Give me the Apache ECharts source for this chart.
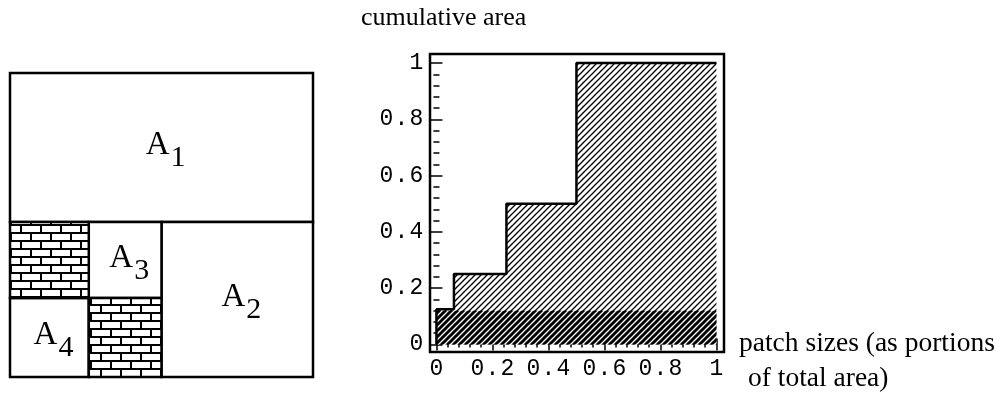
<!DOCTYPE html>
<html><head><meta charset="utf-8">
<script src="https://cdn.jsdelivr.net/npm/echarts@6/dist/echarts.min.js"></script>
<style>html,body{margin:0;padding:0;background:#fff}#c{width:995px;height:414px}</style>
</head><body><div id="c"></div>
<script>
// ---- Step chart (cumulative area vs patch size) ----
const stepX = [0, 0, 0.0625, 0.25, 0.5, 1];
const cumulativeArea = [0, 0.125, 0.25, 0.5, 1, 1];
const bandX = [0, 1];
const bandY = [0.12, 0.12];
const majorTicks = [0, 0.2, 0.4, 0.6, 0.8, 1];
const minorTicks = [0.04, 0.08, 0.12, 0.16, 0.24, 0.28, 0.32, 0.36, 0.44, 0.48,
                    0.52, 0.56, 0.64, 0.68, 0.72, 0.76, 0.84, 0.88, 0.92, 0.96];
// ---- Patch layout (unit square) ----
const patchLetter = ['A', 'A', 'A', 'A', '', ''];
const patchSub    = ['1', '2', '3', '4', '', ''];
const patchX0 = [0,    0.5,  0.26, 0,    0,    0.26];
const patchX1 = [1,    1,    0.5,  0.26, 0.26, 0.5];
const patchY0 = [0.51, 0,    0.26, 0,    0.26, 0];
const patchY1 = [1,    0.51, 0.51, 0.26, 0.51, 0.26];
const patchBrick = [0, 0, 0, 0, 1, 1];

function makeHatch(size, lw, bg) {
  const c = document.createElement('canvas');
  c.width = size; c.height = size;
  const g = c.getContext('2d');
  if (bg) { g.fillStyle = bg; g.fillRect(0, 0, size, size); }
  g.strokeStyle = '#000'; g.lineWidth = lw; g.lineCap = 'square';
  for (const k of [-size, 0, size]) {
    g.beginPath(); g.moveTo(k, size); g.lineTo(k + size, 0); g.stroke();
  }
  return c;
}
function makeBrick() {
  const c = document.createElement('canvas');
  c.width = 20; c.height = 16;
  const g = c.getContext('2d');
  g.fillStyle = '#000'; g.fillRect(0, 0, 20, 16);
  g.fillStyle = '#fff';
  g.fillRect(2, 2, 18, 6);
  g.fillRect(0, 10, 10, 6);
  g.fillRect(12, 10, 8, 6);
  return c;
}
const lightPat = { type: 'pattern', image: makeHatch(6, 1.3, null), repeat: 'repeat' };
const darkPat = { type: 'pattern', image: makeHatch(6, 3, '#fff'), repeat: 'repeat' };
const brickPat = { type: 'pattern', image: makeBrick(), repeat: 'repeat' };

const zip = (a, b) => a.map((v, i) => [v, b[i]]);
const patchData = patchX0.map((v, i) => [v, patchX1[i], patchY0[i], patchY1[i], patchBrick[i]]);

const mono = 'Liberation Mono';
const serif = 'Liberation Serif';
function monoLabel(v) { return String(v).split('').map(ch => '{c|' + ch + '}').join(''); }
const richMono = { c: { width: 15, align: 'center', fontFamily: mono, fontSize: 23, color: '#000' } };

const XMIN = -0.023, XMAX = 1.027, YMIN = -0.027, YMAX = 1.032;
const tickStyle = { color: '#000', width: 1.5 };

const chart = echarts.init(document.getElementById('c'), null, { renderer: 'canvas' });
chart.setOption({
  backgroundColor: '#fff',
  animation: false,
  title: [
    { text: 'cumulative area', left: 361, top: 5, padding: 0,
      textStyle: { fontFamily: serif, fontSize: 26, fontWeight: 'normal', color: '#000' } },
    { text: 'patch sizes (as portions', left: 739, top: 330, padding: 0,
      textStyle: { fontFamily: serif, fontSize: 27.5, fontWeight: 'normal', color: '#000' } },
    { text: 'of total area)', left: 748, top: 365, padding: 0,
      textStyle: { fontFamily: serif, fontSize: 27.5, fontWeight: 'normal', color: '#000' } }
  ],
  grid: [
    { left: 430, top: 54, width: 294, height: 298, show: true, borderColor: '#000', borderWidth: 2.5, backgroundColor: 'transparent' },
    { left: 430, top: 54, width: 294, height: 298, show: false },
    { left: 10, top: 73, width: 303, height: 304, show: false }
  ],
  xAxis: [
    { type: 'value', gridIndex: 0, position: 'bottom', min: XMIN, max: XMAX, splitLine: { show: false },
      axisLine: { show: false },
      axisTick: { inside: true, length: 6, lineStyle: tickStyle, customValues: majorTicks },
      axisLabel: { customValues: majorTicks, margin: 5, formatter: monoLabel, rich: richMono } },
    { type: 'value', gridIndex: 0, position: 'top', min: XMIN, max: XMAX, splitLine: { show: false },
      axisLine: { show: false }, axisLabel: { show: false },
      axisTick: { inside: true, length: 6, lineStyle: tickStyle, customValues: majorTicks } },
    { type: 'value', gridIndex: 1, position: 'bottom', min: XMIN, max: XMAX, splitLine: { show: false },
      axisLine: { show: false }, axisLabel: { show: false },
      axisTick: { inside: true, length: 3, lineStyle: tickStyle, customValues: minorTicks } },
    { type: 'value', gridIndex: 1, position: 'top', min: XMIN, max: XMAX, splitLine: { show: false },
      axisLine: { show: false }, axisLabel: { show: false },
      axisTick: { inside: true, length: 3, lineStyle: tickStyle, customValues: minorTicks } },
    { type: 'value', gridIndex: 2, min: 0, max: 1, show: false }
  ],
  yAxis: [
    { type: 'value', gridIndex: 0, position: 'left', min: YMIN, max: YMAX, splitLine: { show: false },
      axisLine: { show: false },
      axisTick: { inside: true, length: 6, lineStyle: tickStyle, customValues: majorTicks },
      axisLabel: { customValues: majorTicks, margin: 6, formatter: monoLabel, rich: richMono } },
    { type: 'value', gridIndex: 0, position: 'right', min: YMIN, max: YMAX, splitLine: { show: false },
      axisLine: { show: false }, axisLabel: { show: false },
      axisTick: { inside: true, length: 6, lineStyle: tickStyle, customValues: majorTicks } },
    { type: 'value', gridIndex: 1, position: 'left', min: YMIN, max: YMAX, splitLine: { show: false },
      axisLine: { show: false }, axisLabel: { show: false },
      axisTick: { inside: true, length: 3, lineStyle: tickStyle, customValues: minorTicks } },
    { type: 'value', gridIndex: 1, position: 'right', min: YMIN, max: YMAX, splitLine: { show: false },
      axisLine: { show: false }, axisLabel: { show: false },
      axisTick: { inside: true, length: 3, lineStyle: tickStyle, customValues: minorTicks } },
    { type: 'value', gridIndex: 2, min: 0, max: 1, show: false }
  ],
  series: [
    { name: 'area', type: 'line', xAxisIndex: 0, yAxisIndex: 0, step: 'end', symbol: 'none',
      data: zip(stepX, cumulativeArea), lineStyle: { width: 0, opacity: 0 },
      areaStyle: { color: lightPat, opacity: 1 }, silent: true, z: 2 },
    { name: 'band', type: 'line', xAxisIndex: 0, yAxisIndex: 0, symbol: 'none',
      data: zip(bandX, bandY), lineStyle: { width: 0, opacity: 0 },
      areaStyle: { color: darkPat, opacity: 1 }, silent: true, z: 3 },
    { name: 'outline', type: 'line', xAxisIndex: 0, yAxisIndex: 0, step: 'end', symbol: 'none',
      data: zip(stepX, cumulativeArea), lineStyle: { color: '#000', width: 2.5 }, silent: true, z: 4 },
    { name: 'patches', type: 'custom', xAxisIndex: 4, yAxisIndex: 4, data: patchData,
      encode: { x: [0, 1], y: [2, 3] }, silent: true,
      renderItem: function (params, api) {
        const i = params.dataIndex;
        const p0 = api.coord([api.value(0), api.value(3)]);
        const p1 = api.coord([api.value(1), api.value(2)]);
        const cx = (p0[0] + p1[0]) / 2, cy = (p0[1] + p1[1]) / 2;
        const children = [{
          type: 'rect',
          shape: { x: p0[0], y: p0[1], width: p1[0] - p0[0], height: p1[1] - p0[1] },
          style: { fill: api.value(4) ? brickPat : '#fff', stroke: '#000', lineWidth: 2.5 }
        }];
        if (patchLetter[i]) {
          children.push({ type: 'text', style: { text: patchLetter[i], x: cx + 8, y: cy - 2,
            textAlign: 'right', textVerticalAlign: 'middle', font: '33px "Liberation Serif"', fill: '#000' } });
          children.push({ type: 'text', style: { text: patchSub[i], x: cx + 9, y: cy + 11,
            textAlign: 'left', textVerticalAlign: 'middle', font: '30px "Liberation Serif"', fill: '#000' } });
        }
        return { type: 'group', children: children };
      } }
  ]
});
</script></body></html>
